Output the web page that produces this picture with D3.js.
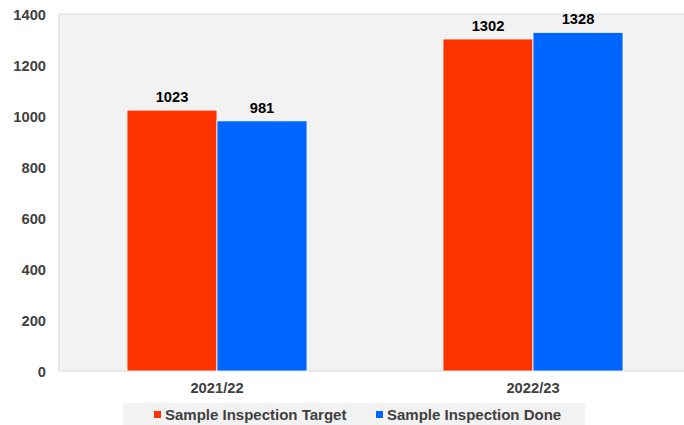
<!DOCTYPE html>
<html>
<head>
<meta charset="utf-8" />
<script src="https://d3js.org/d3.v7.min.js"></script>
<style>
  body { margin: 0; background: #fff; font-family: "Liberation Sans", Arial, sans-serif; }
</style>
</head>
<body>
<svg id="chart" width="684" height="425"></svg>
<script>
  const years = ["2021/22", "2022/23"];
  const seriesNames = ["Sample Inspection Target", "Sample Inspection Done"];
  const target = [1023, 1302];
  const done = [981, 1328];
  const yTicks = [0, 200, 400, 600, 800, 1000, 1200, 1400];
  const colors = ["#ff3300", "#0066ff"];

  const svg = d3.select("#chart");
  const plotL = 59, plotR = 691, plotT = 14, plotB = 371;
  const fs = 14.7;

  // plot background
  svg.append("rect")
    .attr("x", plotL).attr("y", plotT)
    .attr("width", plotR - plotL).attr("height", plotB - plotT)
    .attr("fill", "#f2f2f2").attr("stroke", "#d9d9d9");

  const x = d3.scaleBand().domain(years).range([plotL, plotR]).padding(0);
  const inner = d3.scaleBand().domain([0, 1]).range([0, 180]);
  const y = d3.scaleLinear().domain([0, 1400]).range([plotB, plotT]);

  // y tick labels
  svg.append("g").selectAll("text").data(yTicks).join("text")
    .attr("x", 46).attr("y", d => y(d) + 5.5)
    .attr("text-anchor", "end")
    .attr("font-size", fs).attr("font-weight", "bold").attr("fill", "#404040")
    .text(d => d);

  const rows = years.map((yr, i) => [target[i], done[i]].map((v, s) => ({ yr, v, s })));

  const g = svg.append("g").selectAll("g").data(rows).join("g")
    .attr("transform", (d, i) => `translate(${x(years[i]) + x.bandwidth() / 2 - 90},0)`);

  g.selectAll("rect").data(d => d).join("rect")
    .attr("x", d => inner(d.s))
    .attr("y", d => y(d.v))
    .attr("width", inner.bandwidth())
    .attr("height", d => plotB - y(d.v))
    .attr("fill", d => colors[d.s])
    .attr("stroke", "#fff").attr("stroke-width", 0.8);

  g.selectAll("text").data(d => d).join("text")
    .attr("x", d => inner(d.s) + inner.bandwidth() / 2)
    .attr("y", d => y(d.v) - 8)
    .attr("text-anchor", "middle")
    .attr("font-size", fs).attr("font-weight", "bold").attr("fill", "#000")
    .text(d => d.v);

  // category labels
  svg.append("g").selectAll("text").data(years).join("text")
    .attr("x", d => x(d) + x.bandwidth() / 2).attr("y", 393)
    .attr("text-anchor", "middle")
    .attr("font-size", fs).attr("font-weight", "bold").attr("fill", "#404040")
    .text(d => d);

  // legend
  svg.append("rect").attr("x", 123).attr("y", 403).attr("width", 462).attr("height", 22)
    .attr("fill", "#f2f2f2");
  const legX = [154, 376];
  const lg = svg.append("g").selectAll("g").data(seriesNames).join("g")
    .attr("transform", (d, i) => `translate(${legX[i]},0)`);
  lg.append("rect").attr("x", 0).attr("y", 411).attr("width", 7).attr("height", 7)
    .attr("fill", (d, i) => colors[i]);
  lg.append("text").attr("x", 11).attr("y", 419.5)
    .attr("font-size", 15).attr("font-weight", "bold").attr("fill", "#404040")
    .text(d => d);
</script>
</body>
</html>
